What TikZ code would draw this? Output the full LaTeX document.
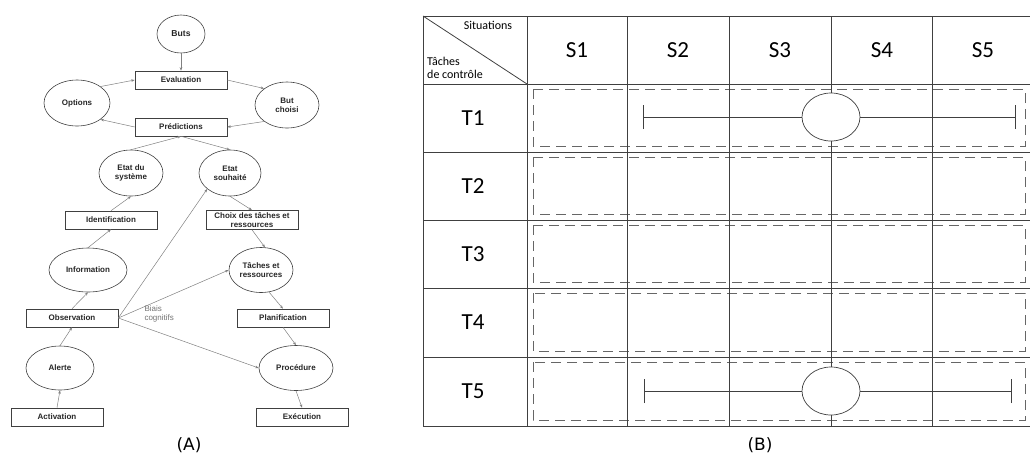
\documentclass[tikz,border=0pt]{standalone}
\usepackage{fontspec}
\setmainfont{Liberation Sans}
\newfontfamily\calfont{Carlito}
\newfontfamily\capfont{DejaVu Sans}
\usetikzlibrary{shapes.geometric,arrows.meta}
\begin{document}
\begin{tikzpicture}[x=1pt,y=-1pt,
  lbl/.style={font=\fontsize{8}{9}\selectfont\bfseries,align=center,text=black!85},
  box/.style={lbl,draw=black!75,line width=0.6pt,minimum width=92pt,minimum height=18pt,inner sep=0pt},
  ell/.style={lbl,draw=black!75,line width=0.6pt,ellipse,inner sep=0pt},
  arr/.style={draw=black!50,line width=0.5pt,-{Stealth[length=3.5pt,width=2.6pt]}},
  grid/.style={draw=black!75,line width=0.8pt},
  dbox/.style={draw=black!60,line width=0.8pt,dash pattern=on 10pt off 6pt},
  cell/.style={font=\calfont\fontsize{23}{26}\selectfont},
  smalltxt/.style={font=\calfont\fontsize{12}{12.5}\selectfont,align=left},
  captxt/.style={font=\capfont\fontsize{17}{20}\selectfont},
]
\useasboundingbox (0,0) rectangle (1030,459);

% ---------------- (A) ----------------
\node[ell,minimum width=48pt,minimum height=38pt,font=\fontsize{8.6}{9}\selectfont\bfseries] (buts) at (181,34) {Buts};
\node[box] (eval) at (181,80) {Evaluation};
\node[ell,minimum width=66pt,minimum height=46pt] (opt) at (77,103) {Options};
\node[ell,minimum width=64pt,minimum height=46pt] (but) at (287,105) {But\\choisi};
\node[box] (pred) at (181,127) {Prédictions};
\node[ell,minimum width=64pt,minimum height=46pt] (eds) at (131,173) {Etat du\\système};
\node[ell,minimum width=62pt,minimum height=46pt] (esh) at (230,173) {Etat\\souhaité};
\node[box] (ident) at (111,220) {Identification};
\node[box,minimum height=19pt] (choix) at (252,220) {Choix des tâches et\\ressources};
\node[ell,minimum width=78pt,minimum height=44pt] (info) at (88,270) {Information};
\node[ell,minimum width=64pt,minimum height=45pt] (tach) at (261,270) {Tâches et\\ressources};
\node[box] (obs) at (72,318) {Observation};
\node[box] (plan) at (283,318) {Planification};
\node[ell,minimum width=68pt,minimum height=44pt] (alert) at (60,368) {Alerte};
\node[ell,minimum width=74pt,minimum height=45pt] (proc) at (296,368) {Procédure};
\node[box] (activ) at (57,417) {Activation};
\node[box] (exec) at (302,417) {Exécution};
\node[font=\fontsize{8}{9.5}\selectfont,text=black!55,align=left,anchor=west] (biais) at (141,314) {Biais\\cognitifs};

\draw[arr] (buts) -- (eval);
\draw[arr] (opt.north east) -- (eval.west);
\draw[arr] (eval.east) -- (but.north west);
\draw[arr] (but.south west) -- (pred.east);
\draw[arr] (pred.west) -- (opt.south east);
\draw[arr] (eds.north) -- (pred.south);
\draw[arr] (pred.south) -- (esh.north);
\draw[arr] (ident.north) -- (eds.south);
\draw[arr] (esh.south) -- (choix.north);
\draw[arr] (info.north) -- (ident.south);
\draw[arr] (choix.south) -- (tach.80);
\draw[arr] (obs.north) -- (info.south);
\draw[arr] (obs.east) -- (esh.215);
\draw[arr] (obs.east) -- (tach.west);
\draw[arr] (obs.east) -- (proc.west);
\draw[arr] (tach.290) -- (plan.north);
\draw[arr] (plan.south) -- (proc.north);
\draw[arr] (alert.north) -- (obs.south);
\draw[arr] (activ.north) -- (alert.south);
\draw[arr] (proc.south) -- (exec.north);

\node[captxt] (capA) at (189,445) {(A)};

% ---------------- (B) ----------------
% dashed row frames
\foreach \t/\b in {84/152,152/220,220/288,288/357,357/426}{
  \draw[dbox] (533,\t+5) rectangle (1025,\b-6);
}
% grid
\foreach \y in {16,84,152,220,288,357,426}{
  \draw[grid] (423,\y) -- (1030,\y);
}
\foreach \x in {423,527,627,729,831,932}{
  \draw[grid] (\x,16) -- (\x,426);
}
\draw[grid] (423,16) -- (527,84);

\node[smalltxt] (sit) at (488,25) {Situations};
\node[smalltxt,anchor=west,inner sep=0pt] (tch) at (427,68) {Tâches\\de contrôle};

\node[cell] (s1) at (577,50) {S1};
\node[cell] (s2) at (678,50) {S2};
\node[cell] (s3) at (780,50) {S3};
\node[cell] (s4) at (882,50) {S4};
\node[cell] (s5) at (983,50) {S5};

\node[cell] (t1) at (473,118) {T1};
\node[cell] (t2) at (473,186) {T2};
\node[cell] (t3) at (473,254) {T3};
\node[cell] (t4) at (473,322) {T4};
\node[cell] (t5) at (473,391) {T5};

% T1 span
\coordinate (a1) at (643,117);
\coordinate (b1) at (1015,117);
\draw[grid,line width=0.7pt] (a1) -- (b1);
\draw[grid,line width=0.7pt] ([yshift=-12pt]a1) -- ([yshift=12pt]a1);
\draw[grid,line width=0.7pt] ([yshift=-12pt]b1) -- ([yshift=12pt]b1);
\node[ellipse,draw=black!75,fill=white,line width=0.7pt,minimum width=58pt,minimum height=48pt,inner sep=0pt] (e1) at (831,117) {};

% T5 span
\coordinate (a5) at (644,391);
\coordinate (b5) at (1011,391);
\draw[grid,line width=0.7pt] (a5) -- (b5);
\draw[grid,line width=0.7pt] ([yshift=-12pt]a5) -- ([yshift=12pt]a5);
\draw[grid,line width=0.7pt] ([yshift=-12pt]b5) -- ([yshift=12pt]b5);
\node[ellipse,draw=black!75,fill=white,line width=0.7pt,minimum width=58pt,minimum height=48pt,inner sep=0pt] (e5) at (831,391) {};

\node[captxt] (capB) at (760,445) {(B)};
\end{tikzpicture}
\end{document}
